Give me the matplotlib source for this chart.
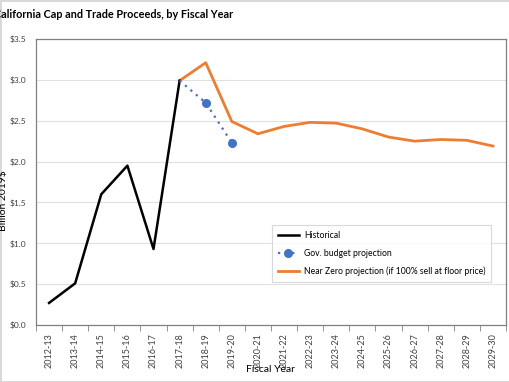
import matplotlib
matplotlib.use('Agg')
import matplotlib.pyplot as plt
import numpy as np

plt.rcParams['font.family'] = ['Lato', 'DejaVu Sans']

# fiscal years on the x axis
years = ['2012-13', '2013-14', '2014-15', '2015-16', '2016-17', '2017-18',
         '2018-19', '2019-20', '2020-21', '2021-22', '2022-23', '2023-24',
         '2024-25', '2025-26', '2026-27', '2027-28', '2028-29', '2029-30']

# billion 2019$
historical = [0.27, 0.51, 1.60, 1.95, 0.93, 2.99]
gov_budget = [2.99, 2.72, 2.23]
near_zero = [2.99, 3.21, 2.49, 2.34, 2.43, 2.48, 2.47, 2.40, 2.30, 2.25, 2.27, 2.26, 2.19]

x = np.arange(len(years))

fig = plt.figure(figsize=(5.1, 3.82), dpi=100)
fig.patch.set_edgecolor('#d9d9d9')
fig.patch.set_linewidth(2)
ax = fig.add_axes([36/510, 1-325/382, 470/510, 286/382])

ax.plot(x[:6], historical, color='black', lw=1.8, label='Historical', zorder=3)
ax.plot(x[5:8], gov_budget, color='#4472C4', lw=1.6, ls=(0, (1, 2.2)), marker='o', ms=5.5,
        markevery=[1, 2], label='Gov. budget projection', zorder=4)
ax.plot(x[5:], near_zero, color='#ED7D31', lw=2.0, label='Near Zero projection (if 100% sell at floor price)', zorder=2)

ax.set_xlim(-0.5, len(years) - 0.5)
ax.set_ylim(0, 3.5)
yt = np.arange(0, 3.51, 0.5)
ax.set_yticks(yt)
ax.set_yticklabels(['$%.1f' % v for v in yt], fontsize=6, color='#404040')
ax.set_xticks(x)
ax.set_xticklabels(years, rotation=90, fontsize=6.5, color='#404040')
ax.set_xticks(np.arange(-0.5, len(years), 1), minor=True)
ax.tick_params(axis='x', which='major', length=0, pad=6)
ax.tick_params(axis='x', which='minor', length=4, color='#808080', direction='out')
ax.tick_params(axis='y', length=0, pad=7)
ax.grid(axis='y', color='#e0e0e0', lw=0.8)
ax.set_axisbelow(True)
for s in ax.spines.values():
    s.set_color('#808080')
    s.set_linewidth(0.9)

ax.set_xlabel('Fiscal Year', fontsize=7.5, labelpad=-2)
fig.text(0.006, 0.476, 'Billion 2019$', rotation=90, fontsize=7.5, ha='center', va='center')
fig.text(-0.012, 0.963, 'California Cap and Trade Proceeds, by Fiscal Year', fontsize=7.8,
         fontweight='bold', ha='left', va='center')

leg = ax.legend(loc='upper left', bbox_to_anchor=(0.493, 0.364), fontsize=6.2, frameon=True,
                fancybox=False, edgecolor='#d0d0d0', handlelength=2.4, borderpad=0.7,
                labelspacing=1.0, handletextpad=0.6)
leg.get_frame().set_linewidth(0.8)

fig.savefig('out.png', dpi=100)
